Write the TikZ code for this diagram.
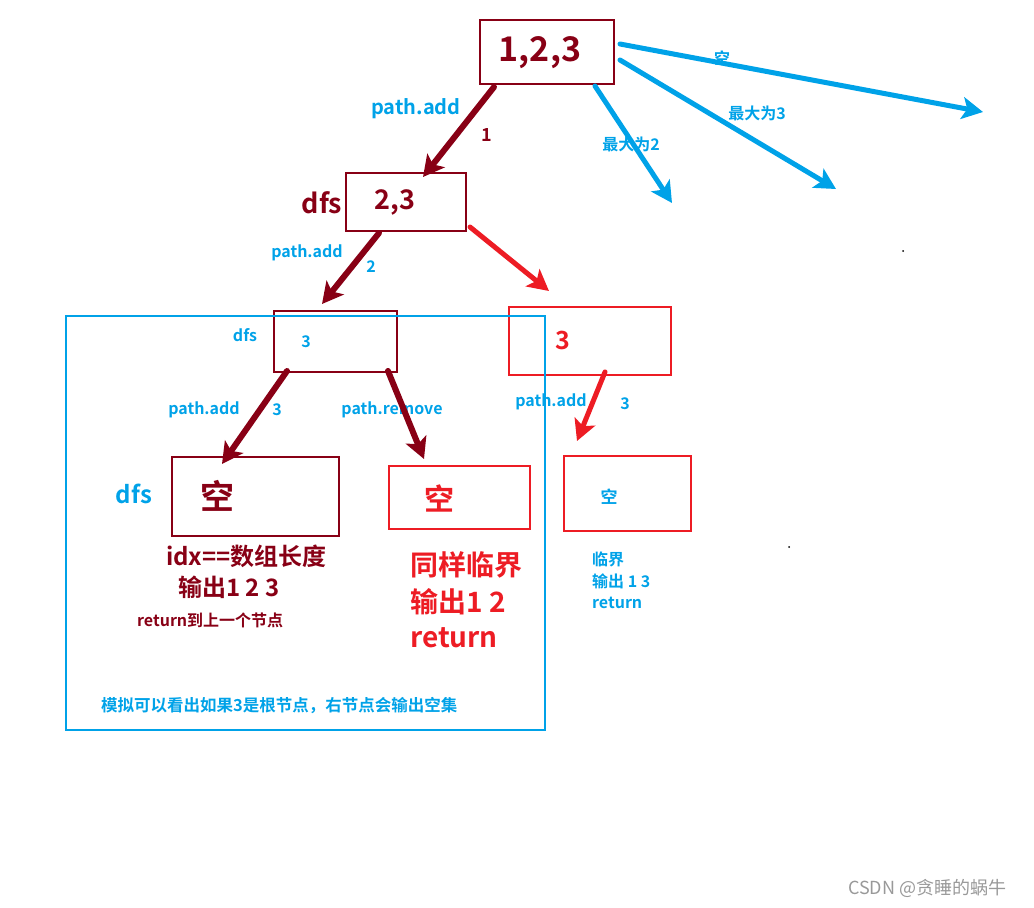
\documentclass[tikz,border=0pt]{standalone}
\usepackage{fontspec}
\setmainfont{Noto Sans CJK SC}[BoldFont={Noto Sans CJK SC Bold}]
\usetikzlibrary{arrows.meta}
\definecolor{treec}{HTML}{880015}
\definecolor{hotc}{HTML}{ED1C24}
\definecolor{notec}{HTML}{00A2E8}
\newcommand{\sz}[1]{\fontsize{#1}{#1}\selectfont}

\begin{document}
\begin{tikzpicture}[
  x=1pt, y=-1pt,
  tbox/.style={draw=treec, line width=2pt, inner sep=0pt},
  rbox/.style={draw=hotc, line width=2pt, inner sep=0pt},
  tlbl/.style={text=treec, font=\bfseries, inner sep=0pt},
  rlbl/.style={text=hotc, font=\bfseries, inner sep=0pt},
  lbl/.style={text=notec, font=\bfseries\sz{16}, inner sep=0pt},
  tip/.style={-{Stealth[length=21pt, width=22pt, inset=5pt]}, line cap=round},
  darr/.style={tip, draw=treec, line width=6pt},
  rarr/.style={tip, draw=hotc, line width=5pt},
  barr/.style={tip, draw=notec, line width=5pt}
]
  \useasboundingbox (0,0) rectangle (1034,908);

  % boxes of the tree
  \node[tbox, minimum width=134pt, minimum height=64pt] (n123) at (547,52) {};
  \node[tbox, minimum width=120pt, minimum height=58pt] (n23) at (406,202) {};
  \node[tbox, minimum width=123pt, minimum height=61pt] (n3) at (335.5,341.5) {};
  \node[rbox, minimum width=162pt, minimum height=68pt] (r3) at (590,341) {};
  \node[tbox, minimum width=167pt, minimum height=79pt] (e1) at (255.5,496.5) {};
  \node[rbox, minimum width=141pt, minimum height=63pt] (e2) at (459.5,497.5) {};
  \node[rbox, minimum width=127pt, minimum height=75pt] (e3) at (627.5,493.5) {};
  \node[draw=notec, line width=2pt, minimum width=479pt, minimum height=414pt] (sim) at (305.5,523) {};

  % texts in the boxes
  \node[tlbl, font=\bfseries\sz{34}] (t123) at (540,53) {1,2,3};
  \node[tlbl, font=\bfseries\sz{27}] (t23) at (395,202) {2,3};
  \node[tlbl, font=\bfseries\sz{27}] (dfs1) at (322,203) {dfs};
  \node[lbl] (t3) at (306,342) {3};
  \node[lbl] (dfs2) at (245,335) {dfs};
  \node[rlbl, font=\bfseries\sz{25}] (tr3) at (563,340) {3};
  \node[tlbl, font=\bfseries\sz{34}] (te1) at (217,496) {空};
  \node[lbl, font=\bfseries\sz{24}] (dfs3) at (134,494) {dfs};
  \node[rlbl, font=\bfseries\sz{30}] (te2) at (439,498) {空};
  \node[lbl, font=\bfseries\sz{17}] (te3) at (609,497) {空};

  % labels on the edges
  \node[lbl, font=\bfseries\sz{20}] (p1) at (416,109) {path.add};
  \node[tlbl, font=\bfseries\sz{18}] (v1) at (487,135) {1};
  \node[lbl] (p2) at (307,253) {path.add};
  \node[lbl] (v2) at (371,267) {2};
  \node[lbl] (p3) at (204,410) {path.add};
  \node[lbl] (v3) at (277,410) {3};
  \node[lbl] (pr) at (392,410) {path.remove};
  \node[lbl] (p4) at (551,402) {path.add};
  \node[lbl] (v4) at (625,404) {3};
  \node[lbl] (m0) at (722,58) {空};
  \node[lbl] (m3) at (757,113) {最大为3};
  \node[lbl] (m2) at (631,144) {最大为2};

  % notes under the leaves
  \node[tlbl, font=\bfseries\sz{24}, anchor=west] (n1a) at (166,556) {idx{=}{=}数组长度};
  \node[tlbl, font=\bfseries\sz{24}, anchor=west] (n1b) at (178,587) {输出1 2 3};
  \node[tlbl, font=\bfseries\sz{16}, anchor=west] (n1c) at (137,620) {return到上一个节点};
  \node[rlbl, font=\bfseries\sz{28}, anchor=west] (n2a) at (410,565) {同样临界};
  \node[rlbl, font=\bfseries\sz{28}, anchor=west] (n2b) at (410,602) {输出1 2};
  \node[rlbl, font=\bfseries\sz{28}, anchor=west] (n2c) at (410,638) {return};
  \node[lbl, anchor=west] (n3a) at (592,559) {临界};
  \node[lbl, anchor=west] (n3b) at (592,581) {输出 1 3};
  \node[lbl, anchor=west] (n3c) at (592,603) {return};
  \node[lbl, font=\bfseries\sz{16.5}, anchor=west] (sum) at (101,706) {模拟可以看出如果3是根节点，右节点会输出空集};
  \node[text=black!40, font=\sz{18}, anchor=west, inner sep=0pt] (mark) at (848,888) {CSDN @贪睡的蜗牛};

  % arrow ends
  \coordinate (a1s) at (494,87);   \coordinate (a1e) at (423,177);
  \coordinate (a2s) at (379,233);  \coordinate (a2e) at (322,304);
  \coordinate (a3s) at (470,227);  \coordinate (a3e) at (549,291);
  \coordinate (a4s) at (287,371);  \coordinate (a4e) at (222,464);
  \coordinate (a5s) at (388,371);  \coordinate (a5e) at (424,459);
  \coordinate (a6s) at (605,372);  \coordinate (a6e) at (577,441);
  \coordinate (b1s) at (620,44);   \coordinate (b1e) at (983,112);
  \coordinate (b2s) at (620,60);   \coordinate (b2e) at (836,189);
  \coordinate (b3s) at (595,86);   \coordinate (b3e) at (672,203);

  \draw[darr] (a1s) -- (a1e);
  \draw[darr] (a2s) -- (a2e);
  \draw[rarr] (a3s) -- (a3e);
  \draw[darr] (a4s) -- (a4e);
  \draw[darr] (a5s) -- (a5e);
  \draw[rarr] (a6s) -- (a6e);
  \draw[barr] (b1s) -- (b1e);
  \draw[barr] (b2s) -- (b2e);
  \draw[barr] (b3s) -- (b3e);

  % stray dots
  \fill (903,251) circle (1pt);
  \fill (789,547) circle (1pt);
\end{tikzpicture}
\end{document}
